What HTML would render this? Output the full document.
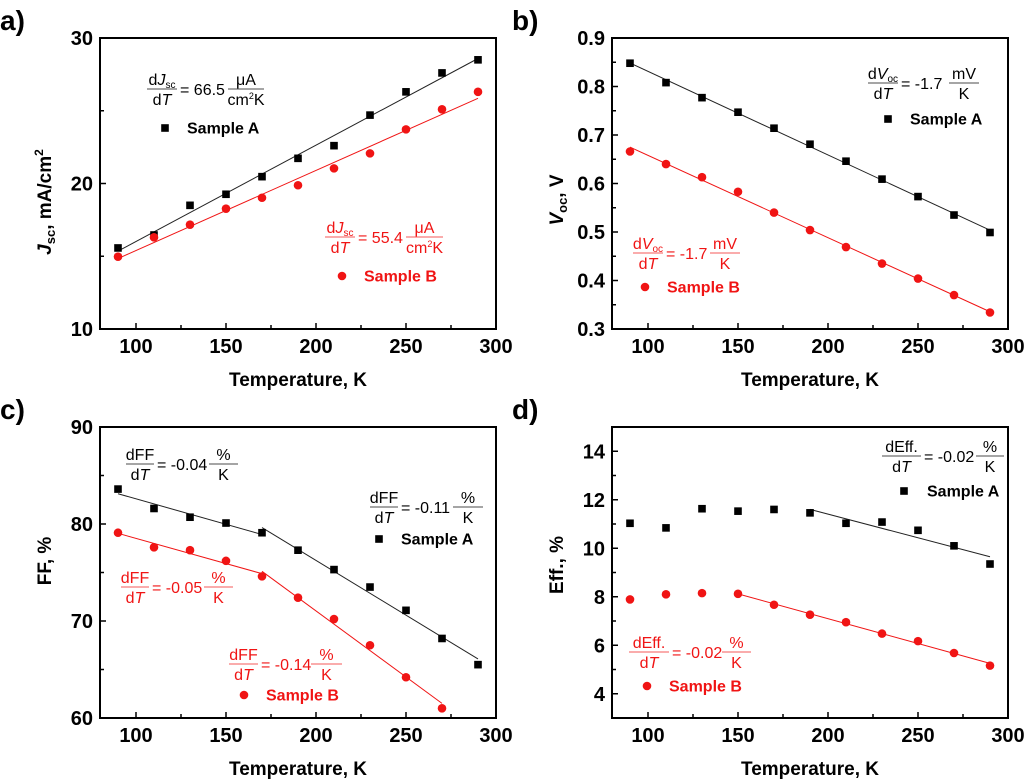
<!DOCTYPE html>
<html><head><meta charset="utf-8">
<style>
html,body{margin:0;padding:0;background:#fff;}
svg{display:block;font-family:"Liberation Sans",Arial,sans-serif;}
.tick{font-weight:bold;font-size:20px;}
.ttl{font-weight:bold;font-size:19px;}
.ann{font-size:16px;}
.leg{font-weight:bold;font-size:16px;}
</style></head>
<body>
<svg id="fig" width="1024" height="779" viewBox="0 0 1024 779" xmlns="http://www.w3.org/2000/svg"></svg>
<script>
// ---- data ----
const temps = [90,110,130,150,170,190,210,230,250,270,290];
const jscA = [15.57,16.46,18.5,19.26,20.47,21.73,22.6,24.7,26.3,27.6,28.5];
const jscB = [14.97,16.3,17.17,18.27,19.02,19.88,21.04,22.07,23.72,25.1,26.3];
const vocA = [0.848,0.808,0.777,0.747,0.714,0.681,0.646,0.609,0.573,0.535,0.499];
const vocB = [0.666,0.640,0.613,0.583,0.540,0.504,0.469,0.435,0.404,0.370,0.334];
const ffA = [83.6,81.6,80.7,80.1,79.1,77.3,75.3,73.5,71.1,68.2,65.5];
const tempsFFB = [90,110,130,150,170,190,210,230,250,270];
const ffB = [79.1,77.6,77.3,76.2,74.6,72.4,70.2,67.5,64.2,61.0];
const effA = [11.03,10.84,11.63,11.53,11.6,11.46,11.03,11.08,10.74,10.1,9.35];
const effB = [7.89,8.1,8.15,8.12,7.67,7.26,6.95,6.48,6.17,5.68,5.16];
const xTicks = [100,150,200,250,300];
const yTicksA = [10,20,30];
const yTicksB = [0.3,0.4,0.5,0.6,0.7,0.8,0.9];
const yTicksC = [60,70,80,90];
const yTicksD = [4,6,8,10,12,14];
// fit ranges [from, to] in K
const fitA_a = [[90,290]], fitB_a = [[90,290]];
const fitA_b = [[90,290]], fitB_b = [[90,290]];
const fitA_c = [[90,170],[170,290]], fitB_c = [[90,170],[170,270]];
const fitA_d = [[190,290]], fitB_d = [[150,290]];

const NS="http://www.w3.org/2000/svg";
const svg=document.getElementById('fig');
function mk(tag,attrs,parent){const e=document.createElementNS(NS,tag);for(const k in attrs)e.setAttribute(k,attrs[k]);(parent||svg).appendChild(e);return e;}
const L=100,R=496,T=38,B=329;
const RED='#f01414';

function fitLine(xs,ys,a,b){
  let n=0,sx=0,sy=0,sxx=0,sxy=0;
  xs.forEach((x,i)=>{if(x>=a&&x<=b){n++;sx+=x;sy+=ys[i];sxx+=x*x;sxy+=x*ys[i];}});
  const m=(n*sxy-sx*sy)/(n*sxx-sx*sx);const c=(sy-m*sx)/n;
  return [m*a+c,m*b+c];
}

function panel(o){
  const g=mk('g',{transform:`translate(${o.ox},${o.oy})`});
  
  
  const sx=v=>L+(v-80)/(220)*(R-L);
  const sy=v=>B-(v-o.ymin)/(o.ymax-o.ymin)*(B-T);
  const lab=mk('text',{x:0,y:30,'font-size':28,'font-weight':'bold'},g);lab.textContent=o.label;
  
  
  const xa=mk('g',{},g);
  
  
  for(let v=100;v<=300;v+=25){const x=sx(v);const maj=v%50===0;mk('line',{x1:x,x2:x,y1:B,y2:B-(maj?6:4),stroke:'#000','stroke-width':1.5},xa);}
  xTicks.forEach(v=>{const t=mk('text',{x:sx(v),y:353,'text-anchor':'middle',class:'tick'},xa);t.textContent=v;
    
    });
  const xt=mk('text',{x:298,y:386,'text-anchor':'middle',class:'ttl'},g);xt.textContent='Temperature, K';
  
  
  const ya=mk('g',{},g);
  
  
  const tk=o.yticks,step=tk[1]-tk[0];
  for(let i=0;i<tk.length;i++){
    const y=sy(tk[i]);mk('line',{x1:L,x2:L+6,y1:y,y2:y,stroke:'#000','stroke-width':1.5},ya);
    const t=mk('text',{x:93,y:y+7,'text-anchor':'end',class:'tick'},ya);t.textContent=o.fmt(tk[i]);
    
    
  }
  for(let v=tk[0]-step/2;v<=o.ymax+1e-9;v+=step){if(v<o.ymin-1e-9)continue;const y=sy(v);mk('line',{x1:L,x2:L+4,y1:y,y2:y,stroke:'#000','stroke-width':1.5},ya);}
  const yt=mk('text',{transform:`translate(51,${o.ytY}) rotate(-90)`,'text-anchor':'middle',class:'ttl','font-size':20},g);
  yt.innerHTML=o.ytitle;
  
  
  [[o.fitA,o.xA,o.yA,'#222'],[o.fitB,o.xB,o.yB,RED]].forEach(([fr,xs,ys,c])=>{
    fr.forEach(([a,b])=>{const [y0,y1]=fitLine(xs,ys,a,b);
      const l=mk('line',{x1:sx(a),y1:sy(y0),x2:sx(b),y2:sy(y1),stroke:c,'stroke-width':1},g);
      
      });
  });
  o.xA.forEach((x,i)=>{const m=mk('rect',{x:sx(x)-3.8,y:sy(o.yA[i])-3.8,width:7.6,height:7.6,fill:'#000'},g);
    
    });
  o.xB.forEach((x,i)=>{const m=mk('circle',{cx:sx(x),cy:sy(o.yB[i]),r:4.3,fill:RED},g);
    
    });
  const fr=mk('rect',{x:L,y:T,width:R-L,height:B-T,fill:'none',stroke:'#000','stroke-width':2},g);
  
  
  o.anns.forEach(a=>frac(g,a));
  o.legs.forEach(l=>legend(g,l));
}
function frac(g,a){
  const c=a.c||'#000';
  const grp=mk('g',{fill:c,class:'ann'},g);
  
  
  mk('line',{x1:a.x0,x2:a.x1,y1:a.y,y2:a.y,stroke:c,'stroke-width':1,opacity:0.7},grp);
  const n=mk('text',{x:(a.x0+a.x1)/2,y:a.y-4,'text-anchor':'middle'},grp);n.innerHTML=a.num;
  const d=mk('text',{x:(a.x0+a.x1)/2,y:a.y+16,'text-anchor':'middle'},grp);d.innerHTML='d<tspan font-style="italic">T</tspan>';
  const e=mk('text',{x:a.x1+3,y:a.y+6},grp);e.textContent=a.eq;
  mk('line',{x1:a.u0,x2:a.u1,y1:a.y,y2:a.y,stroke:c,'stroke-width':1,opacity:0.7},grp);
  const un=mk('text',{x:(a.u0+a.u1)/2,y:a.y-4,'text-anchor':'middle'},grp);un.innerHTML=a.un;
  const ud=mk('text',{x:(a.u0+a.u1)/2,y:a.y+16,'text-anchor':'middle'},grp);ud.innerHTML=a.ud;
}
function legend(g,l){
  const grp=mk('g',{},g);
  
  
  if(l.red) mk('circle',{cx:l.mx,cy:l.my,r:4.3,fill:RED},grp);
  else mk('rect',{x:l.mx-3.8,y:l.my-3.8,width:7.6,height:7.6,fill:'#000'},grp);
  const t=mk('text',{x:l.tx,y:l.my+5.5,class:'leg',fill:l.red?RED:'#000'},grp);t.textContent=l.red?'Sample B':'Sample A';
}
const JN='d<tspan font-style="italic">J</tspan><tspan font-size="10" dy="3">sc</tspan>';
const VN='d<tspan font-style="italic">V</tspan><tspan font-size="10" dy="3">oc</tspan>';
const CM='cm<tspan font-size="9" dy="-6">2</tspan><tspan dy="6">K</tspan>';
panel({name:'panel-a-jsc',label:'a)',ox:0,oy:0,ymin:10,ymax:30,yticks:yTicksA,fmt:v=>v,ytY:202,
  ytitle:'<tspan font-style="italic">J</tspan><tspan font-size="13" dy="4">sc</tspan><tspan dy="-4">, mA/cm</tspan><tspan font-size="12" dy="-8">2</tspan>',
  xA:temps,yA:jscA,xB:temps,yB:jscB,fitA:fitA_a,fitB:fitB_a,
  anns:[{x0:147,x1:177,y:89,num:JN,eq:'= 66.5',u0:228,u1:264,un:'μA',ud:CM},
        {x0:325,x1:355,y:237,num:JN,eq:'= 55.4',u0:406,u1:443,un:'μA',ud:CM,c:RED}],
  legs:[{mx:165,my:128,tx:187},{mx:342,my:276,tx:364,red:1}]});
panel({name:'panel-b-voc',label:'b)',ox:512,oy:0,ymin:0.3,ymax:0.9,yticks:yTicksB,fmt:v=>v.toFixed(1),ytY:200,
  ytitle:'<tspan font-style="italic">V</tspan><tspan font-size="13" dy="4">oc</tspan><tspan dy="-4">, V</tspan>',
  xA:temps,yA:vocA,xB:temps,yB:vocB,fitA:fitA_b,fitB:fitB_b,
  anns:[{x0:356,x1:386,y:83,num:VN,eq:'= -1.7',u0:437,u1:467,un:'mV',ud:'K'},
        {x0:121,x1:151,y:253,num:VN,eq:'= -1.7',u0:198,u1:228,un:'mV',ud:'K',c:RED}],
  legs:[{mx:376,my:119,tx:398},{mx:133,my:287,tx:155,red:1}]});
panel({name:'panel-c-ff',label:'c)',ox:0,oy:389,ymin:60,ymax:90,yticks:yTicksC,fmt:v=>v,ytY:172,
  ytitle:'FF, %',
  xA:temps,yA:ffA,xB:tempsFFB,yB:ffB,fitA:fitA_c,fitB:fitB_c,
  anns:[{x0:126,x1:154,y:75,num:'dFF',eq:'= -0.04',u0:209,u1:238,un:'%',ud:'K'},
        {x0:370,x1:398,y:118,num:'dFF',eq:'= -0.11',u0:453,u1:483,un:'%',ud:'K'},
        {x0:121,x1:149,y:198,num:'dFF',eq:'= -0.05',u0:204,u1:233,un:'%',ud:'K',c:RED},
        {x0:229,x1:258,y:275,num:'dFF',eq:'= -0.14',u0:311,u1:342,un:'%',ud:'K',c:RED}],
  legs:[{mx:379,my:150,tx:401},{mx:244,my:306,tx:266,red:1}]});
panel({name:'panel-d-eff',label:'d)',ox:512,oy:389,ymin:3,ymax:15,yticks:yTicksD,fmt:v=>v,ytY:176,
  ytitle:'Eff., %',
  xA:temps,yA:effA,xB:temps,yB:effB,fitA:fitA_d,fitB:fitB_d,
  anns:[{x0:370,x1:409,y:67,num:'dEff.',eq:'= -0.02',u0:464,u1:492,un:'%',ud:'K'},
        {x0:117,x1:157,y:263,num:'dEff.',eq:'= -0.02',u0:210,u1:239,un:'%',ud:'K',c:RED}],
  legs:[{mx:392,my:102,tx:415},{mx:135,my:297,tx:157,red:1}]});
</script>
</body></html>
